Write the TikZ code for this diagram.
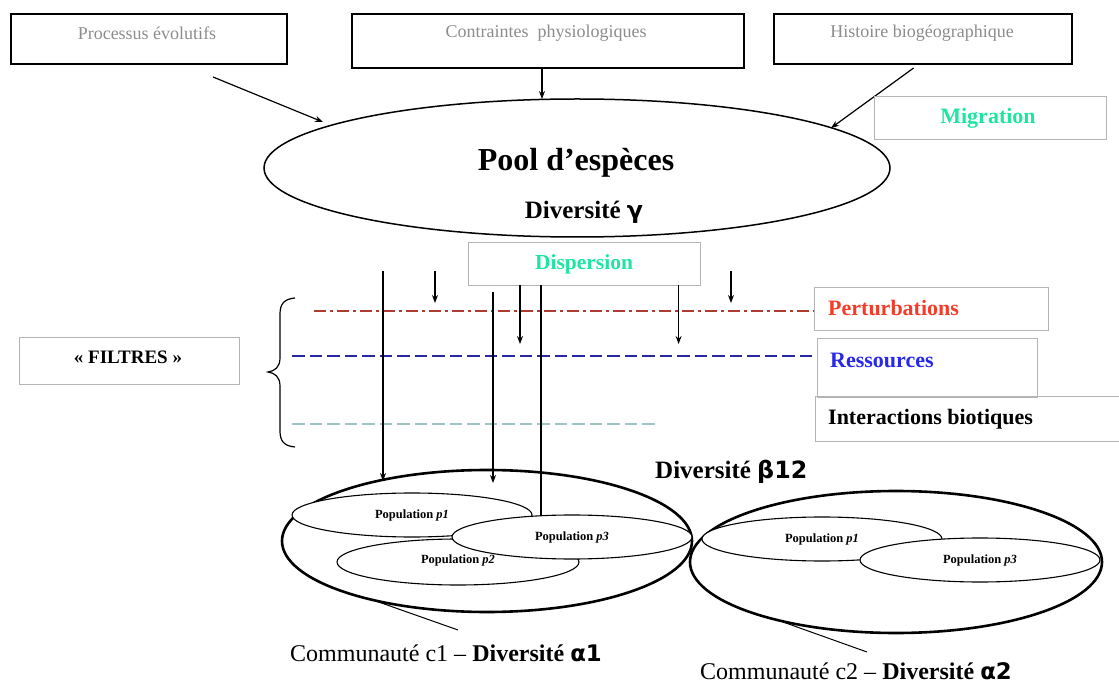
\documentclass[tikz,border=0pt]{standalone}
\usepackage{fontspec}
\setmainfont{Liberation Serif}
\newfontfamily\grk[Scale=0.95]{DejaVu Sans}
\usetikzlibrary{arrows.meta,shapes.geometric}
\definecolor{txtgray}{RGB}{140,140,140}
\definecolor{mint}{RGB}{30,230,160}
\definecolor{pertred}{RGB}{245,60,40}
\definecolor{resblue}{RGB}{40,40,235}
\definecolor{lred}{RGB}{175,60,50}
\definecolor{lblue}{RGB}{40,40,160}
\definecolor{lteal}{RGB}{160,195,195}
\definecolor{boxgray}{RGB}{180,180,180}
\tikzset{
  topbox/.style={draw=black, line width=1.3pt, inner sep=0pt},
  softbox/.style={draw=boxgray, line width=0.8pt, inner sep=0pt},
  boxtext/.style={text=txtgray, font=\fontsize{18}{20}\selectfont, inner sep=0pt},
  arr/.style={-{Stealth[length=8pt,width=6pt]}, line width=1.2pt},
  vline/.style={line width=1.2pt},
  comm/.style={ellipse, draw, line width=2.6pt, inner sep=0pt},
  pop/.style={ellipse, draw, fill=white, line width=1.1pt, inner sep=0pt,
    minimum width=240pt, minimum height=44pt, font=\fontsize{12.5}{14}\selectfont\bfseries},
  bigtext/.style={inner sep=0pt, font=\fontsize{25}{28}\selectfont\bfseries},
  lbltext/.style={inner sep=0pt, anchor=west, font=\fontsize{22}{26}\selectfont\bfseries},
}
\begin{document}
\begin{tikzpicture}[x=1pt,y=-1pt]
\useasboundingbox (0,0) rectangle (1119,684);

% top boxes
\node[topbox, minimum width=276pt, minimum height=50pt] (b1) at (149,39) {};
\node[boxtext] (b1t) at (147,33) {Processus évolutifs};
\node[topbox, minimum width=392pt, minimum height=54pt] (b2) at (548,41) {};
\node[boxtext] (b2t) at (546,33) {Contraintes\ \ physiologiques};
\node[topbox, minimum width=298pt, minimum height=50pt] (b3) at (923,39) {};
\node[boxtext] (b3t) at (922,33) {Histoire biogéographique};

% pool ellipse
\node[ellipse, draw, line width=1.5pt, minimum width=626pt, minimum height=138pt, inner sep=0pt] (pool) at (577,168) {};
\node[inner sep=0pt, font=\fontsize{32}{36}\selectfont\bfseries] (poolt) at (576,163) {Pool d’espèces};
\node[bigtext] (gam) at (584,212) {Diversité {\grk\bfseries γ}};

% arrows to pool
\coordinate (a1s) at (213,77);
\coordinate (a1e) at (323,122);
\draw[arr] (a1s) -- (a1e);
\coordinate (a2e) at (542,99);
\draw[arr] (b2.south -| a2e) -- (a2e);
\coordinate (a3s) at (913.6,68);
\coordinate (a3e) at (831,128);
\draw[arr] (a3s) -- (a3e);

% migration
\node[softbox, minimum width=232pt, minimum height=43pt] (mig) at (990,117.5) {};
\node[inner sep=0pt, text=mint, font=\fontsize{22}{26}\selectfont\bfseries] (migt) at (988,118) {Migration};

% dispersion
\node[softbox, minimum width=232pt, minimum height=43pt] (disp) at (584,263.5) {};
\node[inner sep=0pt, text=mint, font=\fontsize{21.5}{26}\selectfont\bfseries] (dispt) at (584,264) {Dispersion};

% filter boxes
\node[softbox, minimum width=234pt, minimum height=43pt] (pert) at (931,308.5) {};
\node[lbltext, text=pertred] (pertt) at (828,308) {Perturbations};
\node[softbox, minimum width=220pt, minimum height=59pt] (res) at (927,367.5) {};
\node[lbltext, text=resblue] (rest) at (830,360) {Ressources};
\node[inner sep=0pt, minimum width=303pt, minimum height=44pt] (inter) at (967.5,419) {};
\draw[boxgray, line width=0.8pt] (inter.north east) -- (inter.north west) -- (inter.south west) -- (inter.south east);
\node[lbltext, text=black] (intert) at (828,419) {Interactions biotiques};

\node[softbox, minimum width=220pt, minimum height=47pt] (filt) at (129,360.5) {};
\node[inner sep=0pt, font=\fontsize{19}{22}\selectfont\bfseries] (filtt) at (128,357) {« FILTRES »};

% brace
\draw[line width=1.2pt] (295,298) .. controls (284,299) and (280,304) .. (280,314)
  -- (280,358) .. controls (280,367) and (275,371) .. (268,372)
  .. controls (275,373) and (280,377) .. (280,386)
  -- (280,431) .. controls (280,441) and (284,446) .. (295,447);

% filter lines
\coordinate (pl1) at (313.6,311);
\draw[lred, line width=1.2pt, dash pattern=on 12pt off 4pt on 3pt off 4pt] (pl1) -- (pert.west |- pl1);
\coordinate (rl1) at (292,356);
\draw[lblue, line width=1.2pt, dash pattern=on 12.5pt off 5pt] (rl1) -- (res.west |- rl1);
\coordinate (il1) at (292,424);
\coordinate (il2) at (656,424);
\draw[lteal, line width=1.4pt, dash pattern=on 12.5pt off 5pt] (il1) -- (il2);

% communities
\node[comm, minimum width=410pt, minimum height=142pt] (c1) at (487,541) {};
\node[comm, minimum width=412pt, minimum height=142pt] (c2) at (896,562) {};
\node[pop] (p1) at (412,515) {Population \textit{p1}};
\node[pop, minimum width=242pt, minimum height=46pt] (p2) at (458,562) {};
\node[inner sep=0pt, font=\fontsize{12.5}{14}\selectfont\bfseries] (p2t) at (458,560) {Population \textit{p2}};
\node[pop] (p3) at (572,537) {Population \textit{p3}};
\node[pop] (q1) at (822,539) {Population \textit{p1}};
\node[pop] (q3) at (980,560) {Population \textit{p3}};

% vertical lines and arrows
\coordinate (v1s) at (383,271); \coordinate (v1e) at (383,481);
\draw[arr] (v1s) -- (v1e);
\coordinate (v2s) at (435,271); \coordinate (v2e) at (435,303);
\draw[arr] (v2s) -- (v2e);
\coordinate (v3s) at (493,292); \coordinate (v3e) at (493,483);
\draw[arr] (v3s) -- (v3e);
\coordinate (v4) at (541,515.5);
\draw[vline] (disp.south -| v4) -- (v4);
\coordinate (v5e) at (520,344);
\draw[arr] (disp.south -| v5e) -- (v5e);
\coordinate (v6e) at (678.6,344);
\draw[arr] (disp.south -| v6e) -- (v6e);
\coordinate (v7s) at (731,271); \coordinate (v7e) at (731,303);
\draw[arr] (v7s) -- (v7e);

% labels
\node[bigtext, anchor=west] (beta) at (655,472) {Diversité {\grk\bfseries β12}};
\node[inner sep=0pt, anchor=west, font=\fontsize{24}{28}\selectfont] (c1t) at (290,653) {Communauté c1 – \textbf{Diversité {\grk\bfseries α1}}};
\node[inner sep=0pt, anchor=west, font=\fontsize{24}{28}\selectfont] (c2t) at (700,671) {Communauté c2 – \textbf{Diversité {\grk\bfseries α2}}};
\coordinate (c1p) at (373,600); \coordinate (c1q) at (458,630);
\draw[line width=1pt] (c1p) -- (c1q);
\coordinate (c2p) at (783,622); \coordinate (c2q) at (867,652);
\draw[line width=1pt] (c2p) -- (c2q);
\end{tikzpicture}
\end{document}
